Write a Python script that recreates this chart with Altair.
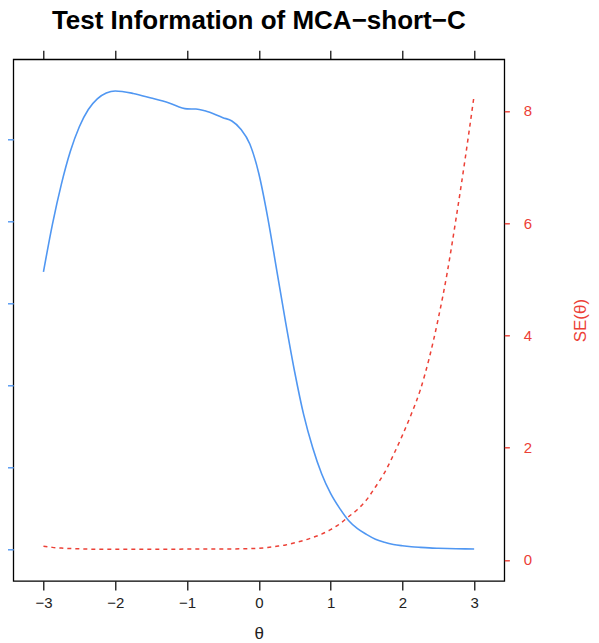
import altair as alt
import pandas as pd

# ---- data ----
theta = [-3, -2.875, -2.75, -2.625, -2.5, -2.375, -2.25, -2.125, -2, -1.75, -1.5, -1.25,
         -1, -0.875, -0.75, -0.5, -0.375, -0.25, -0.125, 0, 0.125, 0.25, 0.375, 0.5,
         0.625, 0.75, 0.875, 1, 1.125, 1.25, 1.375, 1.5, 1.625, 1.75, 1.875, 2, 2.125,
         2.25, 2.375, 2.5, 2.625, 2.75, 2.875, 3]
info = [16.9, 19.8, 22.25, 24.25, 25.75, 26.8, 27.45, 27.8, 27.93, 27.78, 27.5, 27.2,
        26.84, 26.83, 26.72, 26.3, 26.1, 25.6, 24.7, 22.9, 20.2, 17.0, 13.8, 10.8,
        8.2, 6.2, 4.6, 3.4, 2.5, 1.75, 1.25, 0.9, 0.6, 0.42, 0.29, 0.21, 0.15,
        0.11, 0.077, 0.055, 0.037, 0.026, 0.019, 0.015]
se = [0.245, 0.224, 0.212, 0.203, 0.198, 0.194, 0.191, 0.19, 0.189, 0.19, 0.1905, 0.192,
      0.193, 0.193, 0.1935, 0.195, 0.196, 0.198, 0.201, 0.209, 0.222, 0.243, 0.268, 0.305,
      0.347, 0.40, 0.46, 0.54, 0.64, 0.77, 0.90, 1.07, 1.3, 1.55, 1.87, 2.22, 2.6,
      3.03, 3.6, 4.3, 5.12, 6.1, 7.15, 8.28]

x_ticks = [-3, -2, -1, 0, 1, 2, 3]
info_ticks = [0, 5, 10, 15, 20, 25]
se_ticks = [0, 2, 4, 6, 8]

title_text = "Test Information of MCA\u2212short\u2212C"

BLUE = "#5097f2"
RED = "#ec4036"
FONT = "Liberation Sans"

W = 491
H = 521.7

df = pd.DataFrame({"theta": theta, "info": info, "se": se})
xscale = alt.Scale(domain=[-3.42, 3.42], nice=False, zero=False)

base = alt.Chart(df)

info_line = base.mark_line(color=BLUE, strokeWidth=1.6, interpolate="monotone").encode(
    x=alt.X(
        "theta:Q", scale=xscale,
        axis=alt.Axis(orient="bottom", values=x_ticks, title="\u03b8", domain=False, grid=False,
                      tickColor="black", tickSize=9, tickWidth=1.2,
                      labelFont=FONT, labelFontSize=15, labelColor="#222222", labelPadding=6,
                      titleFont=FONT, titleFontSize=17, titleFontWeight="normal", titleColor="#222222",
                      titleX=245.5, titleY=53, titleBaseline="middle", titleAlign="center"),
    ),
    y=alt.Y(
        "info:Q", scale=alt.Scale(domain=[-1.94, 29.86], nice=False, zero=False),
        axis=alt.Axis(orient="left", values=info_ticks, labels=False, title=None, domain=False,
                      grid=False, tickColor=BLUE, tickSize=10, tickWidth=1.4),
    ),
)

se_line = base.mark_line(color=RED, strokeWidth=1.5, strokeDash=[4, 4], interpolate="monotone").encode(
    x=alt.X(
        "theta:Q", scale=xscale,
        axis=alt.Axis(orient="top", values=x_ticks, labels=False, title=None, domain=False,
                      grid=False, tickColor="black", tickSize=9, tickWidth=1.2),
    ),
    y=alt.Y(
        "se:Q", scale=alt.Scale(domain=[-0.375, 8.92], nice=False, zero=False),
        axis=alt.Axis(orient="right", values=se_ticks, title="SE(\u03b8)", domain=False, grid=False,
                      tickColor=RED, tickSize=5, tickWidth=1.4,
                      labelFont=FONT, labelFontSize=15, labelColor=RED, labelPadding=14,
                      titleFont=FONT, titleFontSize=17, titleFontWeight="normal", titleColor=RED,
                      titleAngle=270, titleX=76, titleY=H / 2, titleAlign="center",
                      titleBaseline="middle"),
    ),
)

chart = (
    alt.layer(info_line, se_line)
    .resolve_scale(y="independent")
    .resolve_axis(x="independent", y="independent")
    .properties(
        width=W,
        height=H,
        title=alt.TitleParams(text=title_text, font=FONT, fontSize=26, fontWeight="bold",
                              color="black", anchor="middle", offset=-5, baseline="alphabetic"),
        padding={"left": 5.3, "top": 51.3, "right": 86, "bottom": 62},
        autosize=alt.AutoSizeParams(type="none"),
        background="white",
    )
    .configure_view(stroke="black", strokeWidth=1.3)
)

chart.save("out.html", embed_options={"renderer": "svg", "actions": False})
